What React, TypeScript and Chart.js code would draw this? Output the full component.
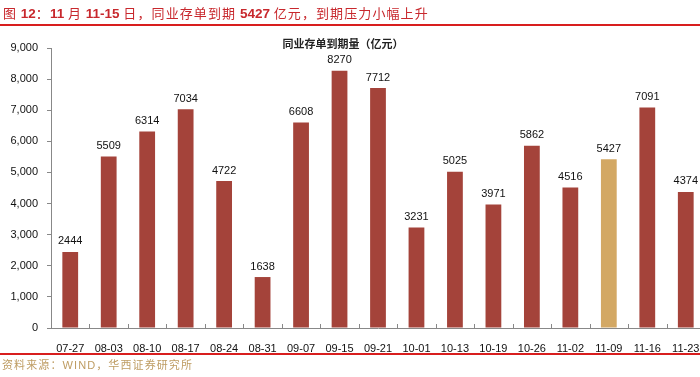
import React, { useEffect, useRef } from "react";
import { Chart, registerables } from "chart.js";

Chart.register(...registerables);

const categories = ["07-27","08-03","08-10","08-17","08-24","08-31","09-07","09-15","09-21","10-01","10-13","10-19","10-26","11-02","11-09","11-16","11-23"];
const values = [2444,5509,6314,7034,4722,1638,6608,8270,7712,3231,5025,3971,5862,4516,5427,7091,4374];
const highlightIndex = 14;
const yTicks = [0,1000,2000,3000,4000,5000,6000,7000,8000,9000];
const titleText = "图 12：11 月 11-15 日，同业存单到期 5427 亿元，到期压力小幅上升";
const seriesName = "同业存单到期量（亿元）";
const sourceText = "资料来源：WIND，华西证券研究所";

const BAR = "#A4433A";
const GOLD = "#D3A864";
const RED = "#D81E1E";

function fitText(ctx: any, text: string, x: number, y: number, targetWidth: number) {
  ctx.letterSpacing = "0px";
  const w = ctx.measureText(text).width;
  const n = Array.from(text).length;
  const sp = Math.max(0, (targetWidth - w) / n);
  ctx.letterSpacing = sp.toFixed(2) + "px";
  ctx.fillText(text, x, y);
  ctx.letterSpacing = "0px";
}

function drawMixed(ctx: any, text: string, x: number, y: number) {
  const runs: { s: string; ascii: boolean }[] = [];
  for (const ch of Array.from(text)) {
    const ascii = ch.charCodeAt(0) < 128;
    const last = runs[runs.length - 1];
    if (last && last.ascii === ascii) last.s += ch;
    else runs.push({ s: ch, ascii });
  }
  let cx = x;
  for (const r of runs) {
    if (r.ascii) {
      ctx.font = "bold 13.5px 'Liberation Sans', Arial, sans-serif";
      ctx.letterSpacing = "0px";
    } else {
      ctx.font = "13px 'Noto Sans CJK SC', sans-serif";
      ctx.letterSpacing = "1.1px";
    }
    ctx.fillText(r.s, cx, y);
    cx += ctx.measureText(r.s).width;
  }
  ctx.letterSpacing = "0px";
}

const decorPlugin = {
  id: "decor",
  afterDraw(chart: any) {
    const ctx = chart.ctx;
    const area = chart.chartArea;
    ctx.save();
    // title
    ctx.fillStyle = "#C8282D";
    ctx.textBaseline = "alphabetic";
    ctx.textAlign = "left";
    drawMixed(ctx, titleText, 3, 18);
    // top red rule
    ctx.fillStyle = RED;
    ctx.fillRect(0, 24, 700, 2);
    // bottom red rule
    ctx.fillRect(0, 353, 700, 2);
    // source
    ctx.fillStyle = "#BE9C62";
    ctx.font = "11px 'Liberation Sans', 'Noto Sans CJK SC', sans-serif";
    fitText(ctx, sourceText, 2, 369, 191);
    // series title
    ctx.fillStyle = "#222";
    ctx.font = "bold 11px 'Noto Sans CJK SC', sans-serif";
    ctx.textAlign = "center";
    ctx.textBaseline = "middle";
    ctx.fillText(seriesName, 343, 44);
    // data labels
    const meta = chart.getDatasetMeta(0);
    ctx.fillStyle = "#111";
    ctx.font = "11px 'Liberation Sans', Arial, sans-serif";
    ctx.textBaseline = "bottom";
    meta.data.forEach((el: any, i: number) => {
      ctx.fillText(String(values[i]), el.x, el.y - 5);
    });
    // x-axis inner tick marks between categories
    const xs = chart.scales.x;
    ctx.strokeStyle = "#888";
    ctx.lineWidth = 1;
    for (let i = 1; i < categories.length; i++) {
      const x = Math.round((xs.getPixelForTick(i - 1) + xs.getPixelForTick(i)) / 2) + 0.5;
      ctx.beginPath();
      ctx.moveTo(x, area.bottom);
      ctx.lineTo(x, area.bottom - 4);
      ctx.stroke();
    }
    ctx.restore();
  },
};

export default function App() {
  const ref = useRef<HTMLCanvasElement>(null);
  useEffect(() => {
    document.body.style.margin = "0";
    document.body.style.overflow = "hidden";
    const chart = new Chart(ref.current!, {
      type: "bar",
      data: {
        labels: categories,
        datasets: [
          {
            data: values,
            backgroundColor: values.map((_, i) => (i === highlightIndex ? GOLD : BAR)),
            borderWidth: 0,
            categoryPercentage: 1,
            barPercentage: 0.41,
          },
        ],
      },
      options: {
        responsive: false,
        animation: false,
        layout: { padding: { top: 48, left: 0, right: 1, bottom: 25 } },
        plugins: { legend: { display: false }, tooltip: { enabled: false }, title: { display: false } },
        scales: {
          x: {
            grid: { display: false },
            border: { display: true, color: "#888", width: 1 },
            ticks: {
              color: "#111",
              font: { family: "'Liberation Sans', Arial, sans-serif", size: 11 },
              padding: 6,
              maxRotation: 0,
              autoSkip: false,
            },
            afterFit: (s: any) => { s.height = 24; },
          },
          y: {
            min: 0,
            max: 9000,
            afterBuildTicks: (s: any) => { s.ticks = yTicks.map((v) => ({ value: v })); },
            grid: { drawOnChartArea: false, drawTicks: true, tickLength: 4, color: "#888" },
            border: { display: true, color: "#888", width: 1 },
            ticks: {
              color: "#111",
              font: { family: "'Liberation Sans', Arial, sans-serif", size: 11 },
              padding: 9,
              callback: (v: any) => Number(v).toLocaleString("en-US"),
            },
            afterFit: (s: any) => { s.width = 51; },
          },
        },
      },
      plugins: [decorPlugin],
    });
    return () => chart.destroy();
  }, []);
  return (
    <div style={{ position: "relative", width: 706, height: 377 }}>
      <canvas ref={ref} width={706} height={377} style={{ display: "block", width: 706, height: 377 }} />
    </div>
  );
}
